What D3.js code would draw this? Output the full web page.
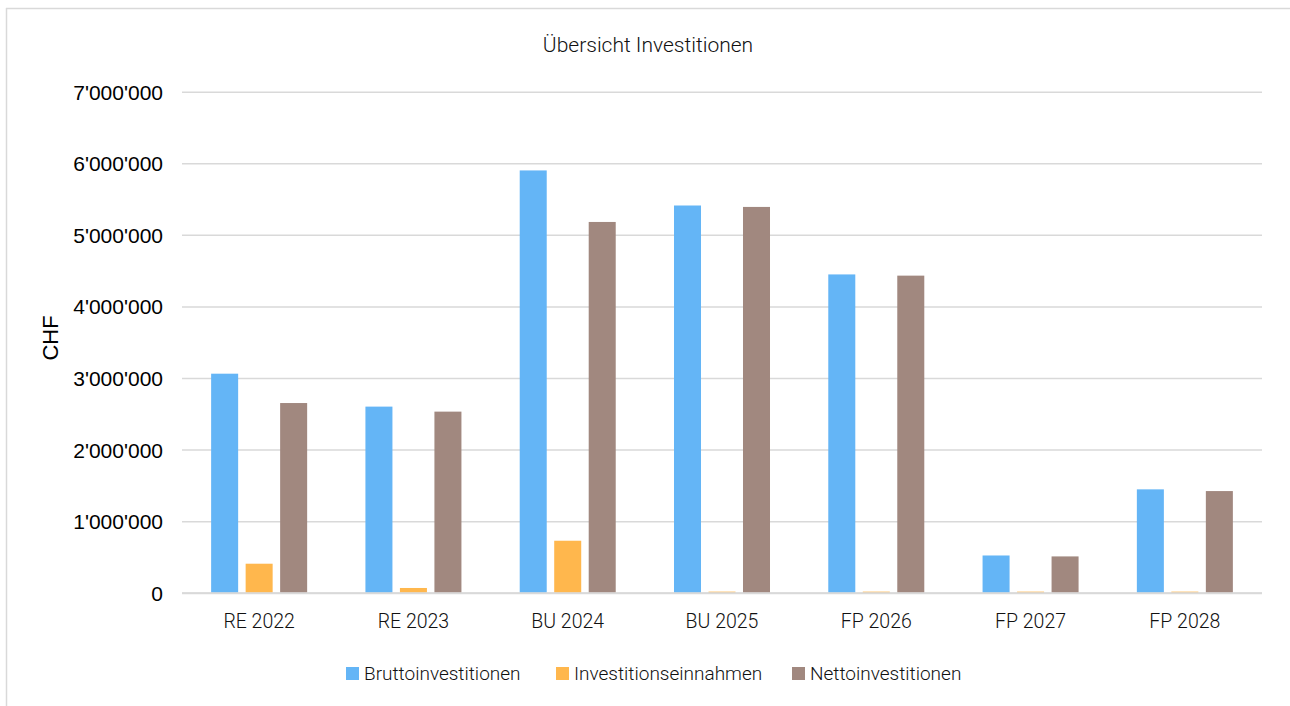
<!DOCTYPE html>
<html><head><meta charset="utf-8">
<script src="https://cdn.jsdelivr.net/npm/d3@7"></script>
<style>body{margin:0;background:#fff}svg{display:block}</style>
</head><body>
<svg id="c" width="1290" height="706"></svg>
<script>
const categories = ["RE 2022","RE 2023","BU 2024","BU 2025","FP 2026","FP 2027","FP 2028"];
const seriesNames = ["Bruttoinvestitionen","Investitionseinnahmen","Nettoinvestitionen"];
const brutto = [3060000, 2600000, 5900000, 5410000, 4447000, 520000, 1444000];
const einnahmen = [405000, 66000, 726000, 15000, 15000, 15000, 15000];
const netto = [2650000, 2530000, 5180000, 5390000, 4430000, 507000, 1420000];
const yTicks = [0,1000000,2000000,3000000,4000000,5000000,6000000,7000000];
const colors = ["#64b5f6","#ffb74d","#a1887f"];
const title = "Übersicht Investitionen";
const yTitle = "CHF";

const values = [brutto, einnahmen, netto];
const svg = d3.select("#c");
const condensed = "Roboto, 'Noto Sans', sans-serif";

// frame
svg.append("line").attr("x1",6).attr("x2",1290).attr("y1",8.5).attr("y2",8.5).attr("stroke","#d9d9d9").attr("stroke-width",1.5);
svg.append("line").attr("x1",6.5).attr("x2",6.5).attr("y1",8).attr("y2",706).attr("stroke","#d9d9d9").attr("stroke-width",1.5);

const x0 = d3.scaleBand().domain(categories).range([182,1262]);
const bw = x0.bandwidth();
const step = bw*0.2236;
const x1 = d3.scaleBand().domain(seriesNames)
  .range([bw/2-1.5*step, bw/2+1.5*step]).paddingInner(0.217).paddingOuter(0.1085);
const y = d3.scaleLinear().domain([0,7000000]).range([592.7,91.7]);

const fmt = v => d3.format(",")(v).replace(/,/g,"'");

// grid
const yAxis = d3.axisLeft(y).tickValues(yTicks).tickSize(-1080).tickFormat(fmt).tickPadding(19);
const ga = svg.append("g").attr("transform","translate(182,0)").call(yAxis);
ga.select(".domain").remove();
ga.selectAll(".tick line").attr("stroke","#d9d9d9").attr("stroke-width",1.5);
ga.selectAll(".tick text").attr("font-family","'Liberation Sans', Arial, sans-serif").attr("font-size",21).attr("fill","#000").attr("dy","0.36em");

// bars
const groups = svg.append("g").selectAll("g").data(categories).join("g")
  .attr("transform", d => `translate(${x0(d)},0)`);
groups.selectAll("rect").data((d,i)=>seriesNames.map((s,j)=>({s, v: values[j][i], j})))
  .join("rect")
  .attr("x", d=>x1(d.s)).attr("width", x1.bandwidth())
  .attr("y", d=>y(d.v)).attr("height", d=>y(0)-y(d.v))
  .attr("fill", d=>colors[d.j]);

// zero line on top
svg.append("line").attr("x1",182).attr("x2",1262).attr("y1",y(0)+0.5).attr("y2",y(0)+0.5).attr("stroke","#d9d9d9").attr("stroke-width",2);

// category labels
const xAxis = d3.axisBottom(x0).tickSize(0).tickPadding(0);
const gx = svg.append("g").attr("transform",`translate(0,${y(0)})`).call(xAxis);
gx.select(".domain").remove();
gx.selectAll(".tick text").attr("font-family",condensed).attr("font-weight",300).attr("font-size",19.5).attr("fill","#111").attr("y",35).attr("dy",0);

// title
svg.append("text").attr("x",648).attr("y",52).attr("text-anchor","middle")
  .attr("font-family",condensed).attr("font-weight",300).attr("font-size",21).attr("fill","#111").text(title);

// y title
svg.append("text").attr("transform","translate(58,338) rotate(-90)").attr("text-anchor","middle")
  .attr("font-family","'Liberation Sans', Arial, sans-serif").attr("font-size",22).attr("fill","#000").text(yTitle);

// legend
const legendX = [346, 556, 792];
const lg = svg.append("g").selectAll("g").data(seriesNames).join("g")
  .attr("transform",(d,i)=>`translate(${legendX[i]},667)`);
lg.append("rect").attr("width",13).attr("height",13).attr("fill",(d,i)=>colors[i]);
lg.append("text").attr("x",18).attr("y",13).attr("font-family",condensed).attr("font-weight",300).attr("font-size",19).attr("fill","#111").text(d=>d);
</script>
</body></html>
